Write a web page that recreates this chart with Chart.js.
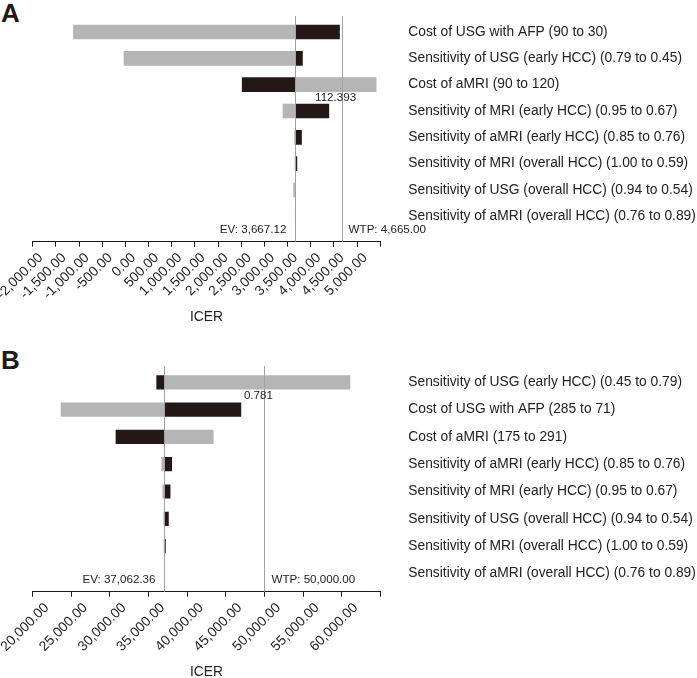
<!DOCTYPE html>
<html>
<head>
<meta charset="utf-8">
<script src="https://cdn.jsdelivr.net/npm/chart.js@4"></script>
<style>
  body { margin: 0; width: 697px; height: 678px; overflow: hidden; background: #fff; position: relative;
         font-family: "Liberation Sans", Arial, sans-serif; }
  .panel { position: absolute; left: 0; width: 697px; height: 340px; }
  .tag { position: absolute; left: 1px; font-weight: bold; font-size: 26px; line-height: 1; color: #231815; }
</style>
</head>
<body>
<div class="tag" style="top:0px">A</div>
<div class="tag" style="top:347px">B</div>
<div class="panel" style="top:0px"><canvas id="chartA" width="697" height="340"></canvas></div>
<div class="panel" style="top:350px"><canvas id="chartB" width="697" height="340"></canvas></div>
<script>
// Panel A
const paramsA = [
  'Cost of USG with AFP (90 to 30)',
  'Sensitivity of USG (early HCC) (0.79 to 0.45)',
  'Cost of aMRI (90 to 120)',
  'Sensitivity of MRI (early HCC) (0.95 to 0.67)',
  'Sensitivity of aMRI (early HCC) (0.85 to 0.76)',
  'Sensitivity of MRI (overall HCC) (1.00 to 0.59)',
  'Sensitivity of USG (overall HCC) (0.94 to 0.54)',
  'Sensitivity of aMRI (overall HCC) (0.76 to 0.89)'
];
const grayA = [-1120, -30, 5410, 3400, 3650, 3660, 3630, 3664];
const blackA = [4620, 3820, 2520, 4390, 3800, 3700, 3668, 3669];
const evA = 3667.12;
const wtpA = 4665.00;
const xTicksA = [-2000, -1500, -1000, -500, 0, 500, 1000, 1500, 2000, 2500, 3000, 3500, 4000, 4500, 5000];
const thresholdA = { row: 2, text: '112.393' };

// Panel B
const paramsB = [
  'Sensitivity of USG (early HCC) (0.45 to 0.79)',
  'Cost of USG with AFP (285 to 71)',
  'Cost of aMRI (175 to 291)',
  'Sensitivity of aMRI (early HCC) (0.85 to 0.76)',
  'Sensitivity of MRI (early HCC) (0.95 to 0.67)',
  'Sensitivity of USG (overall HCC) (0.94 to 0.54)',
  'Sensitivity of MRI (overall HCC) (1.00 to 0.59)',
  'Sensitivity of aMRI (overall HCC) (0.76 to 0.89)'
];
const grayB = [61070, 23670, 43370, 36700, 36830, 36960, 37000, 37050];
const blackB = [36050, 46950, 30780, 38000, 37790, 37570, 37180, 37075];
const evB = 37062.36;
const wtpB = 50000.00;
const xTicksB = [20000, 25000, 30000, 35000, 40000, 45000, 50000, 55000, 60000];
const thresholdB = { row: 0, text: '0.781' };

const FONT = '"Liberation Sans", Arial, sans-serif';
const INK = '#231815';
const fmt = v => v.toLocaleString('en-US', { minimumFractionDigits: 2, maximumFractionDigits: 2 });

const refLines = {
  id: 'refLines',
  afterDatasetsDraw(chart, args, o) {
    const { ctx, chartArea: a, scales: { x, y } } = chart;
    ctx.save();
    ctx.strokeStyle = '#a2a2a2';
    ctx.lineWidth = 1;
    [o.ev, o.wtp].forEach(v => {
      const px = Math.round(x.getPixelForValue(v)) + 0.5;
      ctx.beginPath();
      ctx.moveTo(px, a.top);
      ctx.lineTo(px, a.bottom);
      ctx.stroke();
    });
    ctx.font = '11.6px ' + FONT;
    ctx.fillStyle = '#222';
    ctx.textBaseline = 'middle';
    const ly = a.bottom - 12;
    ctx.textAlign = 'right';
    ctx.fillText('EV: ' + fmt(o.ev), x.getPixelForValue(o.ev) - 9, ly);
    ctx.textAlign = 'left';
    ctx.fillText('WTP: ' + fmt(o.wtp), x.getPixelForValue(o.wtp) + 7, ly);
    ctx.textAlign = 'center';
    ctx.fillText(o.thr.text, x.getPixelForValue(o.wtp) - 6, y.getPixelForValue(o.thr.row + 0.5));
    ctx.restore();
  }
};

function tornado(id, params, gray, black, ev, wtp, xTicks, xMax, thr, yMin, yMax, barH, axisH, padBottom, lblOff) {
  new Chart(document.getElementById(id), {
    type: 'bar',
    data: {
      datasets: [{
        label: 'low',
        data: gray.map((v, i) => ({ x: [ev, v], y: i })),
        backgroundColor: '#b5b5b5',
        barThickness: barH,
        grouped: false
      }, {
        label: 'high',
        data: black.map((v, i) => ({ x: [ev, v], y: i })),
        backgroundColor: INK,
        barThickness: barH,
        grouped: false
      }]
    },
    options: {
      indexAxis: 'y',
      responsive: false,
      animation: false,
      layout: { padding: { left: 32.7, top: 16, right: 0, bottom: padBottom } },
      scales: {
        x: {
          type: 'linear',
          min: xTicks[0],
          max: xMax,
          afterBuildTicks: s => { s.ticks = xTicks.concat([xMax]).map(v => ({ value: v })); },
          afterFit: s => { s.height = axisH; s.paddingLeft = 0; s.paddingRight = 0; },
          grid: { drawOnChartArea: false, drawTicks: true, tickLength: 5, color: INK },
          border: { display: true, color: INK, width: 1 },
          ticks: {
            minRotation: 45, maxRotation: 45, autoSkip: false, padding: 3, labelOffset: lblOff,
            font: { family: FONT, size: 13.8 }, color: '#222',
            callback: v => xTicks.includes(v) ? fmt(v) : ''
          },
          title: { display: true, text: 'ICER', font: { family: FONT, size: 13.8 }, color: '#222', padding: 0 }
        },
        y: {
          type: 'linear',
          position: 'right',
          reverse: true,
          offset: false,
          min: yMin,
          max: yMax,
          afterBuildTicks: s => { s.ticks = params.map((_, i) => ({ value: i })); },
          afterFit: s => { s.width = 697 - 380.3; s.paddingTop = 0; s.paddingBottom = 0; },
          grid: { display: false, drawTicks: false, offset: false },
          border: { display: false },
          ticks: {
            autoSkip: false, padding: 28,
            font: { family: FONT, size: 13.8 }, color: '#222',
            callback: v => params[v]
          }
        }
      },
      plugins: {
        legend: { display: false },
        tooltip: { enabled: false },
        refLines: { ev: ev, wtp: wtp, thr: thr }
      }
    },
    plugins: [refLines]
  });
}

tornado('chartA', paramsA, grayA, blackA, evA, wtpA, xTicksA, 5500, thresholdA, -0.608, 7.964, 14, 83.3, 15, 8);
tornado('chartB', paramsB, grayB, blackB, evB, wtpB, xTicksB, 65000, thresholdB, -0.597, 7.67, 13.5, 88.3, 10, 14);
</script>
</body>
</html>
